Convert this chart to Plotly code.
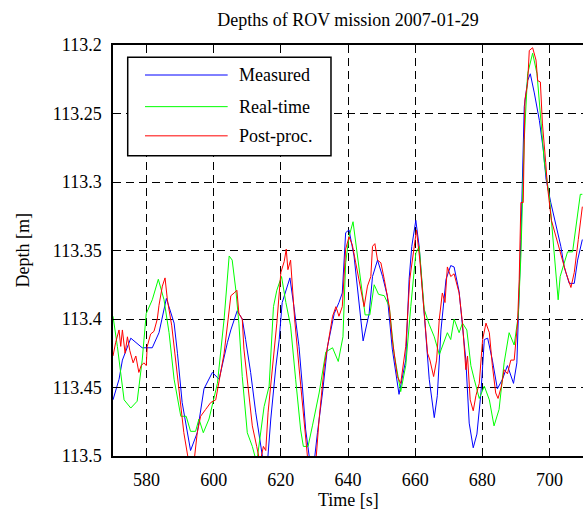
import plotly.graph_objects as go

# ---------------- data ----------------
title_text = "Depths of ROV mission 2007-01-29"
x_label = "Time [s]"
y_label = "Depth [m]"
series_names = ["Measured", "Real-time", "Post-proc."]
series_colors = ["#0000ff", "#00ff00", "#ff0000"]

x_tick_vals = [580, 600, 620, 640, 660, 680, 700]
y_tick_vals = [113.2, 113.25, 113.3, 113.35, 113.4, 113.45, 113.5]
y_tick_text = ["113.2", "113.25", "113.3", "113.35", "113.4", "113.45", "113.5"]

t_measured = [570, 571.8, 572.8, 575.3, 578.7, 581.7, 583.7, 585.9, 588.2, 589.2, 590.6, 593.1,
              595.1, 597.1, 599.6, 601.6, 604.1, 605.1, 607.0, 608.5, 609.5, 611.0, 612.5, 614.0,
              614.8, 616.0, 617.0, 618.5, 619.5, 620.4, 621.5, 622.7, 623.9, 625.4, 626.4, 627.4,
              628.7, 629.9, 630.9, 632.4, 633.9, 635.9, 637.3, 638.3, 639.3, 640.3, 641.8, 643.3,
              644.5, 646.3, 647.3, 648.8, 650.3, 651.7, 653.2, 655.2, 657.2, 658.2, 659.0, 660.2,
              661.2, 662.7, 664.2, 665.7, 666.6, 667.7, 669.2, 670.6, 671.6, 673.1, 674.1, 675.1,
              676.1, 677.3, 678.4, 679.6, 680.6, 681.6, 683.0, 684.5, 686.0, 687.5, 689.3, 690.3,
              691.5, 692.5, 693.5, 694.3, 695.5, 697.0, 698.2, 699.0, 700.4, 701.9, 703.4, 704.4,
              705.9, 707.4, 708.4, 709.8]
d_measured = [113.459, 113.444, 113.430, 113.414, 113.421, 113.421, 113.410, 113.385, 113.403, 113.425, 113.461, 113.496,
              113.483, 113.451, 113.439, 113.444, 113.417, 113.408, 113.394, 113.400, 113.415, 113.439, 113.468, 113.493,
              113.505, 113.505, 113.473, 113.435, 113.415, 113.388, 113.379, 113.370, 113.391, 113.420, 113.449, 113.481,
              113.505, 113.505, 113.483, 113.454, 113.420, 113.396, 113.388, 113.381, 113.337, 113.335, 113.354, 113.391,
              113.416, 113.396, 113.369, 113.357, 113.369, 113.383, 113.422, 113.455, 113.430, 113.371, 113.347, 113.328,
              113.347, 113.396, 113.444, 113.472, 113.456, 113.408, 113.371, 113.361, 113.362, 113.380, 113.403, 113.430,
              113.476, 113.494, 113.484, 113.454, 113.415, 113.414, 113.430, 113.451, 113.444, 113.434, 113.447, 113.432,
              113.342, 113.245, 113.226, 113.221, 113.235, 113.255, 113.277, 113.298, 113.315, 113.330, 113.347, 113.362,
              113.374, 113.374, 113.357, 113.342]

t_realtime = [570, 571.3, 573.3, 575.3, 577.2, 578.7, 579.9, 581.7, 583.5, 585.2, 586.7, 588.2,
              590.2, 591.8, 593.1, 594.6, 595.6, 596.9, 598.6, 601.1, 603.1, 604.6, 605.5, 606.6,
              607.5, 608.5, 610.0, 611.5, 612.8, 614.0, 615.0, 616.5, 617.8, 618.8, 620.2, 621.5,
              622.9, 624.4, 625.9, 626.7, 628.1, 629.4, 631.4, 633.4, 635.4, 637.1, 638.5, 639.3,
              640.3, 641.5, 643.3, 645.1, 646.5, 647.8, 649.1, 650.8, 652.3, 653.7, 655.7, 657.2,
              658.7, 660.2, 661.2, 662.7, 664.2, 665.7, 667.2, 668.3, 669.6, 670.6, 671.6, 673.1,
              674.1, 675.4, 676.6, 677.6, 679.1, 680.6, 682.1, 683.5, 685.0, 686.5, 688.0, 689.5,
              690.7, 691.5, 692.5, 693.5, 695.0, 696.3, 697.5, 698.5, 700.0, 701.4, 702.6, 703.2,
              705.4, 706.9, 707.9, 709.2, 709.8]
d_realtime = [113.398, 113.420, 113.459, 113.465, 113.460, 113.430, 113.396, 113.386, 113.371, 113.386, 113.410, 113.444,
              113.471, 113.471, 113.482, 113.482, 113.473, 113.483, 113.473, 113.447, 113.400, 113.354, 113.357, 113.379,
              113.403, 113.442, 113.483, 113.493, 113.505, 113.483, 113.464, 113.449, 113.391, 113.379, 113.369, 113.388,
              113.405, 113.444, 113.481, 113.493, 113.493, 113.478, 113.454, 113.424, 113.421, 113.431, 113.413, 113.359,
              113.340, 113.329, 113.362, 113.397, 113.397, 113.375, 113.382, 113.383, 113.391, 113.425, 113.453, 113.434,
              113.391, 113.352, 113.347, 113.393, 113.404, 113.413, 113.426, 113.418, 113.410, 113.415, 113.400, 113.410,
              113.403, 113.408, 113.434, 113.444, 113.458, 113.449, 113.459, 113.478, 113.466, 113.432, 113.410, 113.419,
              113.398, 113.354, 113.269, 113.221, 113.206, 113.221, 113.257, 113.286, 113.311, 113.352, 113.386, 113.369,
              113.351, 113.351, 113.332, 113.309, 113.309]

t_postproc = [570, 570.8, 571.8, 572.3, 572.8, 573.6, 574.3, 575.0, 576.0, 576.8, 577.7, 578.4,
              579.2, 579.9, 580.2, 581.2, 582.2, 583.2, 583.7, 584.7, 585.5, 586.2, 587.5, 588.7,
              589.9, 591.1, 592.6, 594.1, 595.1, 596.1, 597.6, 599.1, 600.6, 602.1, 603.1, 604.3,
              605.1, 606.1, 606.9, 607.5, 608.5, 609.0, 610.0, 611.5, 612.8, 613.8, 614.8, 615.5,
              616.2, 617.5, 618.8, 620.0, 621.0, 621.6, 622.1, 622.9, 624.1, 625.4, 626.9, 628.1,
              630.4, 631.4, 632.9, 634.4, 635.4, 636.4, 637.3, 638.3, 639.3, 640.3, 641.3, 642.3,
              643.5, 644.8, 645.8, 646.8, 647.3, 648.0, 648.8, 649.8, 650.8, 652.3, 653.2, 654.7,
              655.7, 657.2, 658.4, 659.7, 660.4, 661.4, 662.7, 663.7, 664.4, 665.5, 666.4, 667.2,
              668.1, 668.9, 669.6, 670.6, 671.6, 673.1, 674.1, 675.1, 675.6, 676.4, 677.3, 678.1,
              679.1, 680.1, 681.1, 682.1, 683.0, 684.0, 684.7, 685.7, 686.5, 687.5, 688.5, 689.5,
              690.5, 691.0, 691.5, 692.2, 692.7, 693.5, 694.0, 695.0, 696.0, 696.5, 697.3, 697.9,
              698.9, 699.4, 700.6, 701.9, 703.4, 704.9, 706.4, 707.4, 708.6, 709.4, 709.8]
d_postproc = [113.427, 113.417, 113.408, 113.420, 113.408, 113.425, 113.413, 113.423, 113.432, 113.427, 113.439, 113.434,
              113.432, 113.434, 113.420, 113.411, 113.409, 113.400, 113.390, 113.376, 113.370, 113.386, 113.405, 113.430,
              113.456, 113.483, 113.505, 113.505, 113.483, 113.471, 113.466, 113.461, 113.459, 113.439, 113.425, 113.400,
              113.383, 113.381, 113.379, 113.396, 113.400, 113.422, 113.444, 113.478, 113.493, 113.505, 113.493, 113.496,
              113.468, 113.435, 113.403, 113.366, 113.358, 113.349, 113.364, 113.357, 113.400, 113.435, 113.476, 113.505,
              113.505, 113.473, 113.435, 113.411, 113.398, 113.391, 113.398, 113.391, 113.349, 113.340, 113.346, 113.359,
              113.374, 113.391, 113.376, 113.369, 113.347, 113.345, 113.357, 113.359, 113.371, 113.391, 113.415, 113.442,
              113.447, 113.420, 113.371, 113.345, 113.335, 113.357, 113.396, 113.425, 113.430, 113.442, 113.430, 113.400,
              113.381, 113.388, 113.362, 113.369, 113.367, 113.381, 113.403, 113.437, 113.427, 113.459, 113.467, 113.456,
              113.447, 113.415, 113.403, 113.410, 113.434, 113.454, 113.458, 113.449, 113.437, 113.440, 113.430, 113.430,
              113.403, 113.371, 113.315, 113.315, 113.240, 113.228, 113.204, 113.202, 113.211, 113.226, 113.227, 113.257,
              113.286, 113.303, 113.328, 113.340, 113.354, 113.366, 113.377, 113.366, 113.342, 113.325, 113.318]

x_range = [570, 710]
y_range = [113.5, 113.2]

# ---------------- figure ----------------
FONT = "Liberation Serif, Times New Roman, serif"
FS = 18

fig = go.Figure()
series = [(t_measured, d_measured), (t_realtime, d_realtime), (t_postproc, d_postproc)]
for (tt, dd), name, col in zip(series, series_names, series_colors):
    fig.add_trace(go.Scatter(x=tt, y=dd, mode="lines", name=name,
                             line=dict(color=col, width=1), showlegend=False))

axis_common = dict(
    showline=True, linecolor="black", linewidth=1.5,
    ticks="inside", ticklen=5, tickcolor="black", tickwidth=1,
    showgrid=True, gridcolor="black", gridwidth=1, griddash="8px,5px",
    zeroline=False,
    tickfont=dict(family=FONT, size=FS, color="black"),
)

fig.update_xaxes(range=x_range, tickvals=x_tick_vals, mirror="ticks",
                 ticklabelstandoff=7, **axis_common)
fig.update_yaxes(range=y_range, tickvals=y_tick_vals, ticktext=y_tick_text, mirror=False,
                 ticklabelstandoff=6, **axis_common)

# manual legend (MATLAB style: long line samples)
shapes = [dict(type="rect", xref="paper", yref="paper", x0=0.0313, x1=0.4638, y0=0.7303, y1=0.970,
               line=dict(color="black", width=1.5), fillcolor="white", layer="above")]
annotations = []
row_y = [0.927, 0.850, 0.779]
for name, col, ry in zip(series_names, series_colors, row_y):
    shapes.append(dict(type="line", xref="paper", yref="paper", x0=0.0681, x1=0.2440, y0=ry, y1=ry,
                       line=dict(color=col, width=1), layer="above"))
    annotations.append(dict(text=name, xref="paper", yref="paper", x=0.263, y=ry, xanchor="left",
                            yanchor="middle", showarrow=False,
                            font=dict(family=FONT, size=FS, color="black")))

annotations.append(dict(text=y_label, xref="paper", yref="paper", x=-0.1936, y=0.5, textangle=-90,
                        xanchor="center", yanchor="middle", showarrow=False,
                        font=dict(family=FONT, size=FS, color="black")))
annotations.append(dict(text=x_label, xref="paper", yref="paper", x=0.5, y=-0.107,
                        xanchor="center", yanchor="middle", showarrow=False,
                        font=dict(family=FONT, size=FS, color="black")))

fig.update_layout(
    width=583, height=514,
    margin=dict(l=113, r=0, t=45, b=57.5),
    paper_bgcolor="white", plot_bgcolor="white",
    title=dict(text=title_text, x=0.5, xref="paper", y=1 - 20 / 514, yanchor="middle",
               font=dict(family=FONT, size=FS, color="black")),
    shapes=shapes, annotations=annotations,
    showlegend=False,
)

fig.write_html("out.html")
